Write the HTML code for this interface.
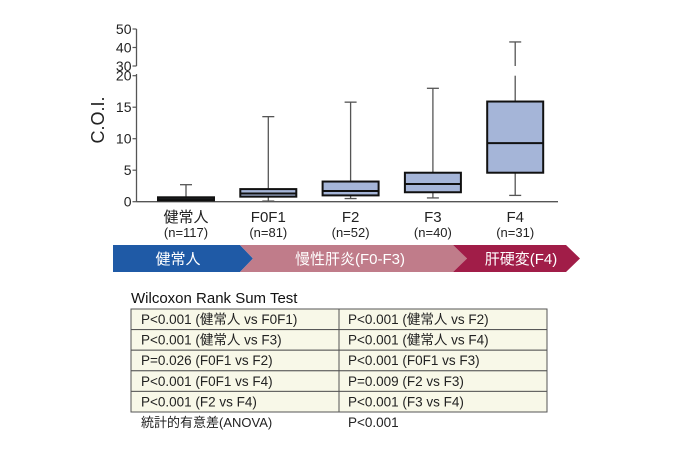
<!DOCTYPE html>
<html><head><meta charset="utf-8"><style>
body{margin:0;background:#fff;}
svg{display:block;font-family:"Liberation Sans","Noto Sans CJK JP",sans-serif;}
</style></head><body>
<svg width="680" height="453" viewBox="0 0 680 453">
<g id="plot"></g>
<g>
<polygon points="113,245 240,245 253,258.5 240,272 113,272" fill="#1f5aa6"/>
<polygon points="240,245 453,245 467,258.5 453,272 240,272 253,258.5" fill="#c07c8a"/>
<polygon points="453,245 566,245 580,258.5 566,272 453,272 467,258.5" fill="#a11d48"/>
<text x="178" y="264" font-size="15" fill="#fff" text-anchor="middle">健常人</text>
<text x="350" y="264" font-size="15" fill="#fff" text-anchor="middle">慢性肝炎(F0-F3)</text>
<text x="521" y="264" font-size="15" fill="#fff" text-anchor="middle">肝硬変(F4)</text>
</g>
<text x="131" y="303" font-size="15" fill="#111">Wilcoxon Rank Sum Test</text>
<g id="tbl"></g>
</svg>
<script>
const categories=["健常人","F0F1","F2","F3","F4"];
const counts=["(n=117)","(n=81)","(n=52)","(n=40)","(n=31)"];
const mins=[0.1,0.1,0.5,0.6,1.0];
const q1s=[0.2,0.8,1.0,1.5,4.6];
const medians=[0.4,1.3,1.7,2.8,9.3];
const q3s=[0.7,2.0,3.2,4.6,15.9];
const maxs=[2.7,13.5,15.8,18.0,43];
const lowTicks=[0,5,10,15,20];
const highTicks=[30,40,50];
const pLeft=["P<0.001 (健常人 vs F0F1)","P<0.001 (健常人 vs F3)","P=0.026 (F0F1 vs F2)","P<0.001 (F0F1 vs F4)","P<0.001 (F2 vs F4)"];
const pRight=["P<0.001 (健常人 vs F2)","P<0.001 (健常人 vs F4)","P<0.001 (F0F1 vs F3)","P=0.009 (F2 vs F3)","P<0.001 (F3 vs F4)"];

const NS="http://www.w3.org/2000/svg";
function mk(parent,tag,attrs,text){const e=document.createElementNS(NS,tag);for(const k in attrs)e.setAttribute(k,attrs[k]);if(text!==undefined)e.textContent=text;parent.appendChild(e);return e;}
function y(v){return v<=20?201.7-v*6.3:66-(v-30)*1.85;}
const X0=136.5;
function xc(i){return 186+i*82.3;}
const plot=document.getElementById('plot');
// axes
let a=mk(plot,'line',{x1:X0,y1:201.7,x2:558,y2:201.7,stroke:'#555','stroke-width':1.3});


a=mk(plot,'line',{x1:X0,y1:201.7,x2:X0,y2:74,stroke:'#555','stroke-width':1.3});


a=mk(plot,'line',{x1:X0,y1:66,x2:X0,y2:29,stroke:'#555','stroke-width':1.3});


lowTicks.concat(highTicks).forEach(t=>{
  const l=mk(plot,'line',{x1:X0-4,y1:y(t),x2:X0,y2:y(t),stroke:'#555','stroke-width':1.2});
  
  
  const tx=mk(plot,'text',{x:X0-5,y:y(t)+5,'font-size':14,'text-anchor':'end',fill:'#222'},String(t));
  
  
});
const yt=mk(plot,'text',{x:0,y:0,'font-size':18,'text-anchor':'middle',fill:'#222',transform:'translate(104,120) rotate(-90)'},'C.O.I.');


categories.forEach((c,i)=>{
  const cx=xc(i),w=56;
  const g=mk(plot,'g',{});
  
  
  const top=maxs[i];
  if(top>20){
    mk(g,'line',{x1:cx,y1:y(q3s[i]),x2:cx,y2:y(20),stroke:'#555','stroke-width':1.3});
    mk(g,'line',{x1:cx,y1:y(30),x2:cx,y2:y(top),stroke:'#555','stroke-width':1.3});
  } else mk(g,'line',{x1:cx,y1:y(q3s[i]),x2:cx,y2:y(top),stroke:'#555','stroke-width':1.3});
  mk(g,'line',{x1:cx,y1:y(q1s[i]),x2:cx,y2:y(mins[i]),stroke:'#555','stroke-width':1.3});
  mk(g,'line',{x1:cx-6,y1:y(top),x2:cx+6,y2:y(top),stroke:'#555','stroke-width':1.3});
  mk(g,'line',{x1:cx-6,y1:y(mins[i]),x2:cx+6,y2:y(mins[i]),stroke:'#555','stroke-width':1.3});
  mk(g,'rect',{x:cx-w/2,y:y(q3s[i]),width:w,height:Math.max(1,y(q1s[i])-y(q3s[i])),fill:'#a5b5d8',stroke:'#111','stroke-width':2});
  mk(g,'line',{x1:cx-w/2,y1:y(medians[i]),x2:cx+w/2,y2:y(medians[i]),stroke:'#111','stroke-width':2});
  const t1=mk(plot,'text',{x:cx,y:222,'font-size':15,'text-anchor':'middle',fill:'#222'},c);
  
  
  const t2=mk(plot,'text',{x:cx,y:237,'font-size':13,'text-anchor':'middle',fill:'#222'},counts[i]);
  
  
});
const tbl=document.getElementById('tbl');
const T=309,RH=20.6,L=131,M=339,R=547;
for(let r=0;r<5;r++){
  const ry=T+r*RH;
  const c1=mk(tbl,'rect',{x:L,y:ry,width:M-L,height:RH,fill:'#f8f8e8',stroke:'#555','stroke-width':1});
  
  
  const c2=mk(tbl,'rect',{x:M,y:ry,width:R-M,height:RH,fill:'#f8f8e8',stroke:'#555','stroke-width':1});
  
  
  const t1=mk(tbl,'text',{x:141,y:ry+15,'font-size':13.5,fill:'#222'},pLeft[r]);
  
  
  const t2=mk(tbl,'text',{x:348,y:ry+15,'font-size':13.5,fill:'#222'},pRight[r]);
  
  
}
let an=mk(tbl,'text',{x:141,y:427,'font-size':13,fill:'#222'},'統計的有意差(ANOVA)');


an=mk(tbl,'text',{x:348,y:427,'font-size':13.5,fill:'#222'},'P<0.001');


</script>
</body></html>
